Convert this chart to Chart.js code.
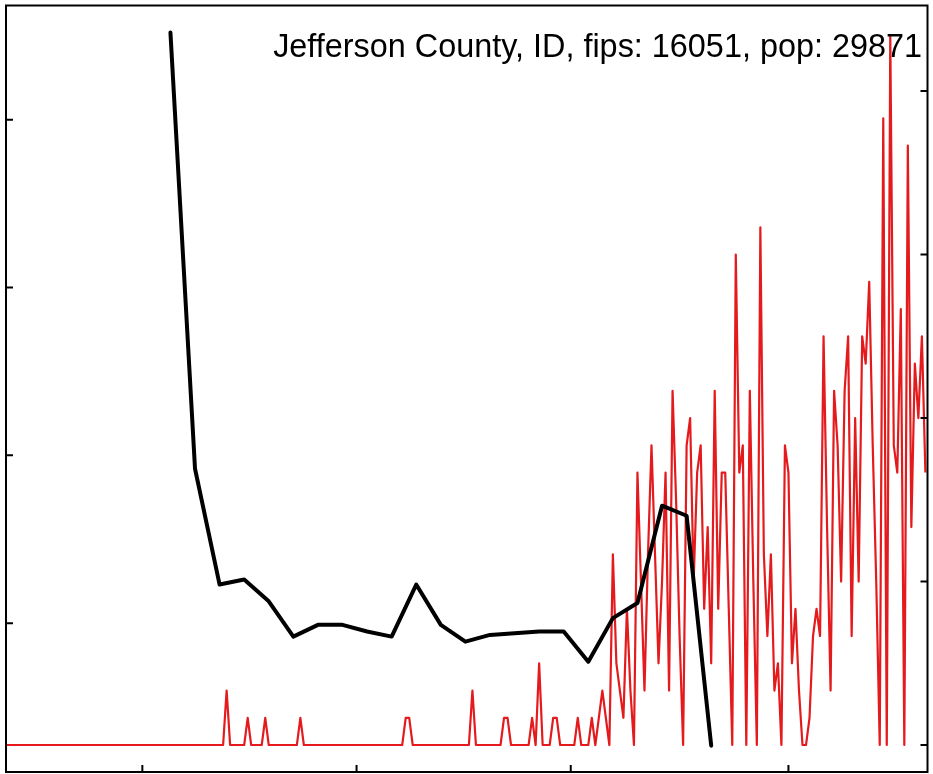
<!DOCTYPE html>
<html>
<head>
<meta charset="utf-8">
<script src="https://cdn.jsdelivr.net/npm/chart.js@4.4.1/dist/chart.umd.min.js"></script>
<style>
    body { margin: 0; background: #fff; }
    canvas { display: block; }
</style>
</head>
<body>
<canvas id="countyChart" width="933" height="774"></canvas>
<script>
// daily new cases, one value per day starting at day 0
const dailyCases = [
    0, 0, 0, 0, 0, 0, 0, 0, 0, 0,
    0, 0, 0, 0, 0, 0, 0, 0, 0, 0,
    0, 0, 0, 0, 0, 0, 0, 0, 0, 0,
    0, 0, 0, 0, 0, 0, 0, 0, 0, 0,
    0, 0, 0, 0, 0, 0, 0, 0, 0, 0,
    0, 0, 0, 0, 0, 0, 0, 0, 0, 0,
    0, 0, 0, 2, 0, 0, 0, 0, 0, 1,
    0, 0, 0, 0, 1, 0, 0, 0, 0, 0,
    0, 0, 0, 0, 1, 0, 0, 0, 0, 0,
    0, 0, 0, 0, 0, 0, 0, 0, 0, 0,
    0, 0, 0, 0, 0, 0, 0, 0, 0, 0,
    0, 0, 0, 0, 1, 1, 0, 0, 0, 0,
    0, 0, 0, 0, 0, 0, 0, 0, 0, 0,
    0, 0, 0, 2, 0, 0, 0, 0, 0, 0,
    0, 0, 1, 1, 0, 0, 0, 0, 0, 0,
    1, 0, 3, 0, 0, 0, 1, 1, 0, 0,
    0, 0, 0, 1, 0, 0, 0, 1, 0, 1,
    2, 1, 0, 7, 3, 2, 1, 5, 2, 0,
    10, 6, 2, 7, 11, 7, 3, 6, 10, 2,
    13, 9, 4, 0, 11, 12, 6, 10, 11, 5,
    8, 3, 13, 5, 10, 10, 5, 0, 18, 10,
    11, 0, 13, 6, 0, 19, 7, 4, 7, 2,
    3, 0, 11, 10, 3, 5, 2, 0, 0, 1,
    4, 5, 4, 15, 8, 2, 13, 11, 6, 13,
    15, 4, 12, 6, 15, 14, 17, 11, 6, 0,
    23, 0, 26, 11, 10, 16, 0, 22, 8, 14,
    12, 15, 10
];

// weekly series (left axis)
const weekDays = [47, 54, 61, 68, 75, 82, 89, 96, 103, 110, 117, 124,
    131, 138, 145, 152, 159, 166, 173, 180, 187, 194, 201];
const weeklyValues = [4.52, 1.92, 1.23, 1.26, 1.13, 0.92, 0.99, 0.99, 0.95, 0.92, 1.23, 0.99,
    0.89, 0.93, 0.94, 0.95, 0.95, 0.77, 1.03, 1.12, 1.70, 1.64, 0.27];

const xTickDays = [39, 100, 161, 223];
const leftTicks = [1, 2, 3, 4];
const rightTicks = [0, 6, 12, 18, 24];

const titleText = "Jefferson County, ID, fips: 16051, pop: 29871";

const casePoints = dailyCases.map((v, i) => ({ x: i, y: v }));
const weekPoints = weekDays.map((d, i) => ({ x: d, y: weeklyValues[i] }));

const framePlugin = {
    id: "frame",
    afterDatasetsDraw(chart) {
        const ctx = chart.ctx;
        const area = chart.chartArea;
        const xs = chart.scales.x;
        const yl = chart.scales.y;
        const yr = chart.scales.y1;
        const len = 7;

        ctx.save();
        ctx.strokeStyle = "#000";
        ctx.lineWidth = 2;
        ctx.strokeRect(area.left, area.top, area.right - area.left, area.bottom - area.top);

        ctx.beginPath();
        xTickDays.forEach(d => {
            const px = xs.getPixelForValue(d);
            ctx.moveTo(px, area.bottom);
            ctx.lineTo(px, area.bottom - len);
        });
        leftTicks.forEach(v => {
            const py = yl.getPixelForValue(v);
            ctx.moveTo(area.left, py);
            ctx.lineTo(area.left + len, py);
        });
        rightTicks.forEach(v => {
            const py = yr.getPixelForValue(v);
            ctx.moveTo(area.right, py);
            ctx.lineTo(area.right - len, py);
        });
        ctx.stroke();

        ctx.fillStyle = "#000";
        ctx.font = "32.4px 'Liberation Sans', Arial, sans-serif";
        ctx.textAlign = "right";
        ctx.textBaseline = "alphabetic";
        ctx.fillText(titleText, 922, 57);
        ctx.restore();
    }
};

new Chart(document.getElementById("countyChart"), {
    type: "line",
    data: {
        datasets: [
            {
                label: "weekly",
                data: weekPoints,
                yAxisID: "y",
                borderColor: "#000",
                borderWidth: 4,
                pointRadius: 0,
                tension: 0,
                borderJoinStyle: "round",
                borderCapStyle: "round",
                order: 1
            },
            {
                label: "daily",
                data: casePoints,
                yAxisID: "y1",
                borderColor: "#e41a1c",
                borderWidth: 2.2,
                pointRadius: 0,
                tension: 0,
                borderJoinStyle: "round",
                order: 2
            }
        ]
    },
    options: {
        responsive: false,
        animation: false,
        layout: { padding: { left: 6, top: 5.5, right: 5.5, bottom: 2 } },
        plugins: {
            legend: { display: false },
            tooltip: { enabled: false }
        },
        scales: {
            x: { type: "linear", min: 0.17, max: 262.6, display: false },
            y: { type: "linear", min: 0.113, max: 4.681, display: false },
            y1: { type: "linear", min: -0.99, max: 27.14, display: false, position: "right" }
        }
    },
    plugins: [framePlugin]
});
</script>
</body>
</html>
